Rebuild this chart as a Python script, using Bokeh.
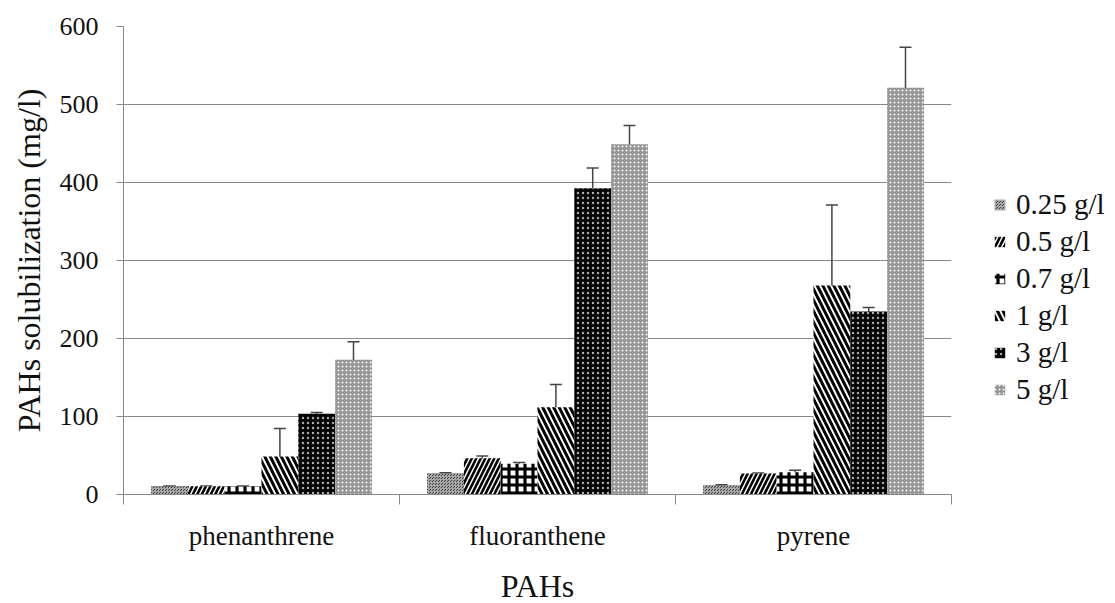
from bokeh.plotting import figure
from bokeh.models import (ColumnDataSource, Range1d, FixedTicker, Whisker, TeeHead,
                          Legend, LegendItem)
from bokeh.embed import file_html
from bokeh.resources import INLINE

categories = ["phenanthrene", "fluoranthene", "pyrene"]
series = ["0.25 g/l", "0.5 g/l", "0.7 g/l", "1 g/l", "3 g/l", "5 g/l"]

v025 = [10.5, 27.0, 11.5]
e025 = [0.5, 1.0, 1.0]
v05 = [10.5, 46.5, 27.0]
e05 = [0.5, 3.0, 0.5]
v07 = [10.5, 39.5, 28.5]
e07 = [0.5, 1.5, 2.5]
v1 = [48.7, 112.0, 268.0]
e1 = [36.0, 29.0, 103.0]
v3 = [103.5, 392.7, 234.6]
e3 = [1.5, 26.0, 5.0]
v5 = [172.7, 449.0, 521.5]
e5 = [23.0, 24.0, 52.0]

values = [v025, v05, v07, v1, v3, v5]
errors = [e025, e05, e07, e1, e3, e5]

styles = [
    dict(fill_color="#404040", hatch_pattern="criss_cross", hatch_color="#a8a8a8", hatch_scale=3, hatch_weight=1),
    dict(fill_color="white", hatch_pattern="right_diagonal_line", hatch_color="black", hatch_scale=9, hatch_weight=2.6),
    dict(fill_color="white", hatch_pattern="cross", hatch_color="black", hatch_scale=8, hatch_weight=3.2),
    dict(fill_color="white", hatch_pattern="left_diagonal_line", hatch_color="black", hatch_scale=11, hatch_weight=3.0),
    dict(fill_color="black", hatch_pattern="dot", hatch_color="#aaaaaa", hatch_scale=5, hatch_weight=1),
    dict(fill_color="#959595", hatch_pattern="dot", hatch_color="#f8f8f8", hatch_scale=4, hatch_weight=1),
]

FONT = "Liberation Serif"

p = figure(frame_width=828, frame_height=468, min_border_left=123, min_border_right=164,
           min_border_top=26, min_border_bottom=109,
           x_range=Range1d(0, 3), y_range=Range1d(0, 600),
           output_backend="svg", toolbar_location=None, tools="")
p.outline_line_color = None
p.background_fill_color = "white"
p.border_fill_color = "white"

n = len(series)
group = 0.8
bw = group / n
renderers = []
for i, (vals, errs, st) in enumerate(zip(values, errors, styles)):
    xs = [k + 0.5 - group / 2 + bw * (i + 0.5) for k in range(len(categories))]
    src = ColumnDataSource(dict(x=xs, top=vals, upper=[v + e for v, e in zip(vals, errs)],
                                lower=[v - e for v, e in zip(vals, errs)]))
    r = p.vbar(x="x", top="top", bottom=0, width=bw, source=src, line_color=None, **st)
    renderers.append(r)
    w = Whisker(base="x", upper="upper", lower="lower", source=src,
                line_color="#444444", line_width=1.5,
                upper_head=TeeHead(size=12, line_color="#444444", line_width=1.5),
                lower_head=TeeHead(size=12, line_color="#444444", line_width=1.5))
    p.add_layout(w)

# axes
p.xaxis.ticker = FixedTicker(ticks=[0.5, 1.5, 2.5], minor_ticks=[0, 1, 2, 3])
p.xaxis.major_label_overrides = {0.5: categories[0], 1.5: categories[1], 2.5: categories[2]}
p.xaxis.major_tick_out = 0
p.xaxis.major_tick_in = 0
p.xaxis.minor_tick_out = 10
p.xaxis.minor_tick_in = 0
p.xaxis.minor_tick_line_color = "#888888"
p.xaxis.axis_line_color = "#888888"
p.xaxis.major_label_text_font = FONT
p.xaxis.major_label_text_font_size = "27px"
p.xaxis.major_label_text_color = "#111111"
p.xaxis.major_label_standoff = 16
p.xaxis.axis_label = "PAHs"
p.xaxis.axis_label_text_font = FONT
p.xaxis.axis_label_text_font_size = "32px"
p.xaxis.axis_label_text_font_style = "normal"
p.xaxis.axis_label_text_color = "#111111"
p.xaxis.axis_label_standoff = 14

p.yaxis.ticker = FixedTicker(ticks=[0, 100, 200, 300, 400, 500, 600])
p.yaxis.minor_tick_line_color = None
p.yaxis.major_tick_out = 7
p.yaxis.major_tick_in = 0
p.yaxis.major_tick_line_color = "#888888"
p.yaxis.axis_line_color = "#888888"
p.yaxis.major_label_text_font = FONT
p.yaxis.major_label_text_font_size = "26px"
p.yaxis.major_label_text_color = "#111111"
p.yaxis.major_label_standoff = 18
p.yaxis.axis_label = "PAHs solubilization (mg/l)"
p.yaxis.axis_label_text_font = FONT
p.yaxis.axis_label_text_font_size = "32px"
p.yaxis.axis_label_text_font_style = "normal"
p.yaxis.axis_label_text_color = "#111111"
p.yaxis.axis_label_standoff = 10

p.xgrid.grid_line_color = None
p.ygrid.grid_line_color = "#888888"
p.ygrid.grid_line_width = 1

legend = Legend(items=[LegendItem(label=s, renderers=[r]) for s, r in zip(series, renderers)],
                location=(42, 88), glyph_width=13, glyph_height=13, label_height=30,
                spacing=4, padding=0, margin=0, label_standoff=10,
                label_text_font=FONT, label_text_font_size="29px", label_text_color="#111111",
                border_line_color=None, background_fill_alpha=0)
p.add_layout(legend, "right")

open("out.html", "w").write(file_html(p, INLINE))
